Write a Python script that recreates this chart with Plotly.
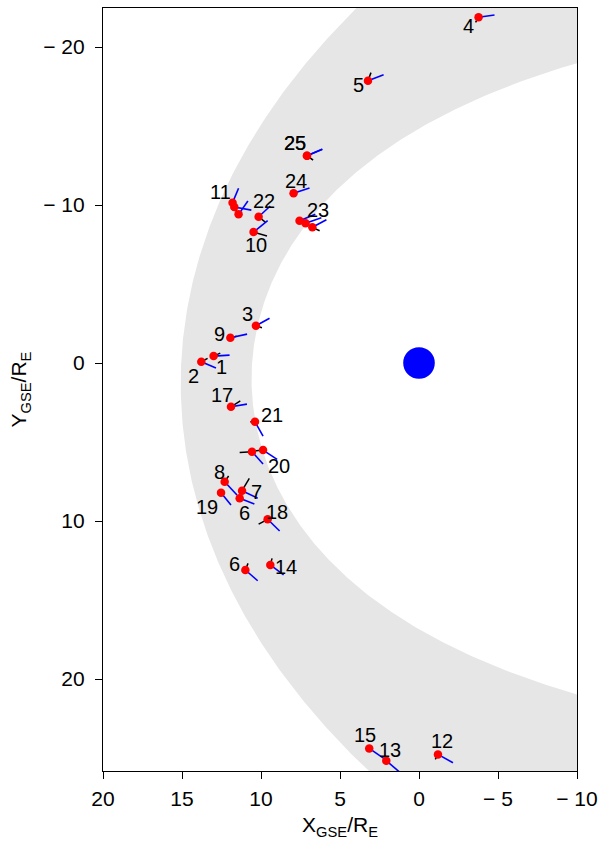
import numpy as np
import plotly.graph_objects as go

# Crossing events: label, GSE position (R_E), blue vector and black vector components
labels = ["1", "2", "3", "4", "5", "6", "7", "8", "9", "10",
          "11", "", "", "12", "13", "14", "15", "6", "17", "18",
          "19", "20", "", "21", "22", "23", "", "", "24", "25", "25"]
x_gse = [13.00, 13.78, 10.32, -3.77, 3.23, 11.35, 11.20, 12.30, 11.94, 10.47,
         11.80, 11.69, 11.42, -1.20, 2.07, 9.41, 3.15, 10.99, 11.90, 9.58,
         12.53, 9.87, 10.57, 10.38, 10.15, 6.75, 7.18, 7.56, 7.94, 7.09, 7.09]
y_gse = [-0.44, -0.08, -2.36, -21.88, -17.87, 8.56, 8.08, 7.51, -1.60, -8.29,
         -10.15, -9.87, -9.41, 24.77, 25.17, 12.78, 24.39, 13.10, 2.77, 9.89,
         8.21, 5.51, 5.61, 3.72, -9.26, -8.59, -8.84, -9.01, -10.74, -13.12, -13.12]
blue_dx = [-1.01, -0.93, -0.86, -1.01, -0.99, -0.93, -0.99, -0.78, -1.06, -0.89,
           -0.38, -1.08, -0.59, -0.95, -0.82, -0.84, -1.08, -0.78, -1.01, -0.76,
           -0.63, -0.89, -0.70, -0.51, -0.74, -0.89, -1.00, -1.00, -1.01, -0.97, -0.97]
blue_dy = [-0.06, 0.40, -0.47, -0.15, -0.38, 0.36, 0.48, 0.84, -0.23, -0.72,
           -0.91, 0.19, -0.84, 0.53, 0.70, 0.63, 0.74, 0.68, -0.17, 0.74,
           0.78, 0.59, 0.78, 0.91, -0.68, -0.48, -0.35, -0.40, -0.34, -0.41, -0.41]
black_dx = [-0.42, -0.40, -0.38, 0.19, -0.19, 0.00, -0.46, -0.25, -0.40, -0.85,
            0.00, -0.19, 0.00, 0.17, 0.00, -0.11, 0.00, -0.17, -0.59, 0.57,
            0.00, 0.63, 0.78, 0.30, -0.42, -0.46, 0.00, 0.00, 0.00, -0.38, -0.38]
black_dy = [-0.19, -0.22, 0.13, 0.32, -0.51, 0.00, -0.78, -0.36, -0.10, 0.25,
            0.00, 0.38, 0.00, 0.32, 0.00, -0.42, 0.00, -0.42, -0.38, 0.30,
            0.00, 0.06, 0.06, 0.00, 0.34, 0.22, 0.00, 0.00, 0.00, 0.27, 0.27]

# Axis ticks
x_ticks = [20, 15, 10, 5, 0, -5, -10]
x_ticktext = ["20", "15", "10", "5", "0", "\u2212 5", "\u2212 10"]
y_ticks = [-20, -10, 0, 10, 20]
y_ticktext = ["\u2212 20", "\u2212 10", "0", "10", "20"]

# Label placement (screen pixels, right / down) for each event label
label_offsets = [(8, 11), (-8, 14), (-8, -12), (-10, 9), (-9, 4), (5, 15), (14, 1),
                 (-5, -10), (-11, -4), (2, 13), (-12, -11), (0, 0), (0, 0), (4, -13),
                 (4, -11), (16, 2), (-4, -13), (-11, -6), (-9, -12), (9, -7),
                 (-14, 14), (16, 16), (0, 0), (17, -7), (5, -16), (6, -17), (0, 0),
                 (0, 0), (2, -12), (-12, -13), (-12, -13)]

# Model boundaries: Shue-type magnetopause and conic bow shock
theta = np.radians(np.linspace(-150, 150, 601))
mp_r0, mp_alpha, mp_shift = 10.6, 0.58, 1.0
r_mp = mp_r0 * (2.0 / (1.0 + np.cos(theta))) ** mp_alpha
mp_x = r_mp * np.cos(theta)
mp_y = r_mp * np.sin(theta) + mp_shift

bs_L, bs_e, bs_shift = 27.3, 0.81, 1.3
r_bs = bs_L / (1.0 + bs_e * np.cos(theta))
bs_x = r_bs * np.cos(theta)
bs_y = r_bs * np.sin(theta) + bs_shift

band_x = np.concatenate([bs_x, mp_x[::-1]])
band_y = np.concatenate([bs_y, mp_y[::-1]])

fig = go.Figure()
fig.add_trace(go.Scatter(x=band_x, y=band_y, mode="lines", fill="toself",
                         fillcolor="#e6e6e6", line=dict(width=0),
                         hoverinfo="skip", showlegend=False))


def segments(dx, dy):
    xs, ys = [], []
    for x0, y0, ex, ey in zip(x_gse, y_gse, dx, dy):
        xs += [x0, x0 + ex, None]
        ys += [y0, y0 + ey, None]
    return xs, ys


kx, ky = segments(black_dx, black_dy)
fig.add_trace(go.Scatter(x=kx, y=ky, mode="lines", line=dict(color="black", width=1.5),
                         showlegend=False, hoverinfo="skip"))
bx, by = segments(blue_dx, blue_dy)
fig.add_trace(go.Scatter(x=bx, y=by, mode="lines", line=dict(color="#0000ff", width=1.6),
                         showlegend=False, hoverinfo="skip"))
fig.add_trace(go.Scatter(x=x_gse, y=y_gse, mode="markers",
                         marker=dict(color="#ff0000", size=8.5, line=dict(width=0)),
                         showlegend=False))

for lab, x0, y0, (ox, oy) in zip(labels, x_gse, y_gse, label_offsets):
    if not lab:
        continue
    fig.add_annotation(x=x0, y=y0, text=lab, showarrow=False, xshift=ox, yshift=-oy,
                       font=dict(size=20, color="black", family="Liberation Sans"))

# Earth
fig.add_shape(type="circle", xref="x", yref="y", x0=-1, x1=1, y0=-1, y1=1,
              fillcolor="#0000ff", line=dict(width=0))

axis_font = dict(family="Liberation Sans", size=21, color="black")
fig.update_xaxes(range=[20, -10], tickvals=x_ticks, ticktext=x_ticktext,
                 showgrid=False, zeroline=False, showline=True, linecolor="black",
                 linewidth=1.2, mirror=True, ticks="outside", ticklen=7, tickwidth=1.2,
                 tickcolor="black", tickfont=axis_font, automargin=False,
                 ticklabelstandoff=2,
                 title=dict(text="X<sub>GSE</sub>/R<sub>E</sub>", font=axis_font, standoff=8))
fig.update_yaxes(range=[25.82, -22.47], tickvals=y_ticks, ticktext=y_ticktext,
                 showgrid=False, zeroline=False, showline=True, linecolor="black",
                 linewidth=1.2, mirror=True, ticks="outside", ticklen=7, tickwidth=1.2,
                 tickcolor="black", tickfont=axis_font, automargin=False,
                 ticklabelstandoff=6,
                 title=dict(text="Y<sub>GSE</sub>/R<sub>E</sub>", font=axis_font, standoff=10))

fig.update_layout(width=600, height=843, margin=dict(l=103, r=23, t=8, b=72),
                  plot_bgcolor="white", paper_bgcolor="white",
                  font=dict(family="Liberation Sans"))

fig.write_html("out.html")
